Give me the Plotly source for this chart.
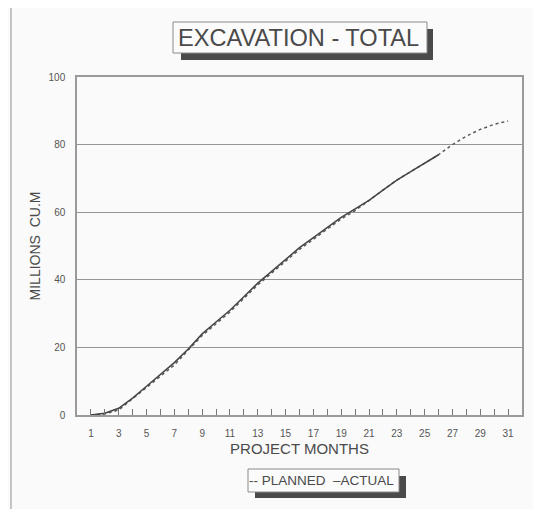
import plotly.graph_objects as go

# ---- data ----
months_planned = [1, 2, 3, 4, 5, 6, 7, 8, 9, 10, 11, 12, 13, 14, 15, 16,
                  17, 18, 19, 20, 21, 22, 23, 24, 25, 26, 27, 28, 29, 30, 31]
planned = [0, 0.3, 1.5, 4.8, 8.3, 11.5, 14.8, 19.2, 23.5, 27, 30.5, 34.5,
           38.5, 42, 45.5, 49, 52, 55, 58, 60.5, 63.5, 66.5, 69.5, 72,
           74.5, 77, 80, 82.5, 84.5, 86, 87]
months_actual = [1, 2, 3, 4, 5, 6, 7, 8, 9, 10, 11, 12, 13, 14, 15, 16,
                 17, 18, 19, 20, 21, 22, 23, 24, 25, 26]
actual = [0, 0.5, 2, 5, 8.5, 12, 15.5, 19.5, 24, 27.5, 31, 35, 39, 42.5,
          46, 49.5, 52.5, 55.5, 58.5, 61, 63.5, 66.5, 69.5, 72, 74.5, 77]
x_tick_labels = [1, 3, 5, 7, 9, 11, 13, 15, 17, 19, 21, 23, 25, 27, 29, 31]
y_tick_labels = [0, 20, 40, 60, 80, 100]

# the page body has an 8px margin; work in screen pixels and shift
OFF = 8
W, H = 541 - OFF, 509 - OFF
# plot area in screen pixels: x 77..522, y 77..415
ML, MT = 77 - OFF, 77 - OFF
MR = W - (522 - OFF)
MB = H - (415 - OFF)
PW, PH = W - ML - MR, H - MT - MB


def px(x):
    return (x - OFF - ML) / PW


def py(y):
    return (H - MB - (y - OFF)) / PH


FONT = "Liberation Sans, Arial, sans-serif"
GRAY = "#555555"

fig = go.Figure()
fig.add_trace(go.Scatter(x=months_planned, y=planned, mode="lines", name="PLANNED",
                         line=dict(color="#5a5a5a", width=1.5, dash="3px,3px"),
                         showlegend=False))
fig.add_trace(go.Scatter(x=months_actual, y=actual, mode="lines", name="ACTUAL",
                         line=dict(color="#444444", width=1.5),
                         showlegend=False))

shapes = [
    # outer frame (left and top)
    dict(type="line", xref="paper", yref="paper", x0=px(11), x1=px(11), y0=py(5), y1=py(512),
         line=dict(color="#c4c4c4", width=2)),
    dict(type="line", xref="paper", yref="paper", x0=px(11), x1=px(545), y0=py(5), y1=py(5),
         line=dict(color="#c4c4c4", width=2)),
    # title shadow and box
    dict(type="rect", xref="paper", yref="paper", x0=px(181), x1=px(433), y0=py(29), y1=py(60),
         fillcolor="#4a4a4a", line=dict(width=0), layer="below"),
    dict(type="rect", xref="paper", yref="paper", x0=px(173), x1=px(427), y0=py(22), y1=py(53),
         fillcolor="#fbfbfb", line=dict(color="#8a8a8a", width=1), layer="below"),
    # legend shadow and box
    dict(type="rect", xref="paper", yref="paper", x0=px(255), x1=px(406), y0=py(476), y1=py(498),
         fillcolor="#4a4a4a", line=dict(width=0), layer="below"),
    dict(type="rect", xref="paper", yref="paper", x0=px(248), x1=px(399), y0=py(469), y1=py(492),
         fillcolor="#fbfbfb", line=dict(color="#8a8a8a", width=1), layer="below"),
]

annotations = [
    dict(text="EXCAVATION - TOTAL", xref="paper", yref="paper", x=px(298), y=py(38),
         xanchor="center", yanchor="middle", showarrow=False,
         font=dict(family=FONT, size=23.6, color="#4a4a4a")),
    dict(text="-- PLANNED&nbsp;&nbsp;–ACTUAL", xref="paper", yref="paper",
         x=px(321), y=py(481), xanchor="center", yanchor="middle", showarrow=False,
         font=dict(family=FONT, size=13.5, color="#4a4a4a")),
]

fig.update_layout(
    width=W, height=H,
    margin=dict(l=ML, r=MR, t=MT, b=MB, autoexpand=False),
    paper_bgcolor="#fafafa", plot_bgcolor="#fafafa",
    font=dict(family=FONT, color=GRAY),
    shapes=shapes, annotations=annotations,
    showlegend=False,
)
fig.update_xaxes(
    automargin=False,
    range=[0, 32], tickmode="array", tickvals=x_tick_labels,
    ticktext=[str(v) for v in x_tick_labels],
    ticks="inside", ticklen=6, tickcolor="#777777", tickwidth=1,
    minor=dict(tickmode="linear", tick0=0, dtick=1, ticks="inside", ticklen=6,
               tickcolor="#777777", tickwidth=1, showgrid=False),
    showgrid=False, zeroline=False,
    showline=True, linecolor="#9a9a9a", linewidth=1.5, mirror=True,
    tickfont=dict(size=10, color="#555555"), ticklabelstandoff=8,
    title=dict(text="PROJECT MONTHS", font=dict(size=15, color="#4a4a4a"), standoff=6),
)
fig.update_yaxes(
    automargin=False,
    range=[0, 100], tickmode="array", tickvals=y_tick_labels,
    ticktext=[str(v) for v in y_tick_labels],
    ticks="", showgrid=True, gridcolor="#959595", gridwidth=1, zeroline=False,
    showline=True, linecolor="#9a9a9a", linewidth=1.5, mirror=True,
    tickfont=dict(size=10, color="#555555"), ticklabelstandoff=8,
    title=dict(text="MILLIONS&nbsp;&nbsp;CU.M", font=dict(size=14, color="#4a4a4a"), standoff=5),
)

fig.write_html("out.html")
